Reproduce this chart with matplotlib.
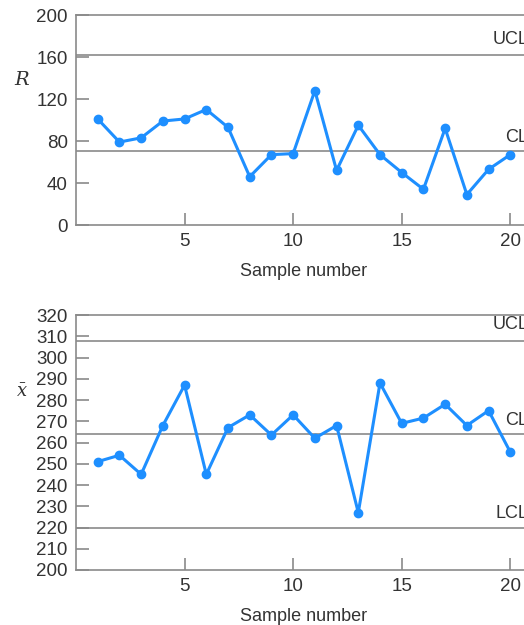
import numpy as np
import matplotlib
matplotlib.use("Agg")
import matplotlib.pyplot as plt

plt.rcParams['font.family'] = ['Liberation Sans', 'DejaVu Sans']
plt.rcParams['mathtext.fontset'] = 'dejavuserif'

# datos de las dos cartas de control
muestras = np.arange(1, 21)
rangos = [101, 79, 83, 99, 101, 110, 93, 46, 67, 68,
          128, 52, 95, 67, 50, 34, 92, 29, 53, 67]
medias = [251, 254, 245, 268, 287, 245, 267, 273, 263.5, 273,
          262, 268, 227, 288, 269, 271.5, 278, 268, 275, 255.5]

r_ucl, r_cl = 162, 70.5
x_ucl, x_cl, x_lcl = 308, 264, 220

azul = '#1e8fff'
gris = '#8a8a8a'
texto = '#333333'

fig = plt.figure(figsize=(5.24, 6.25), dpi=100)
W, H = 524, 625


def ejes(izq, arriba, abajo, der=532):
    return fig.add_axes([izq / W, 1 - abajo / H, (der - izq) / W, (abajo - arriba) / H])


def estilo(ax):
    for s in ['left', 'bottom', 'top']:
        ax.spines[s].set_color(gris)
        ax.spines[s].set_linewidth(1.2)
    ax.spines['right'].set_visible(False)
    ax.tick_params(direction='in', length=9, width=1.2, color=gris,
                   labelsize=13.5, labelcolor=texto, pad=6)
    ax.set_xlim(0, 21)
    ax.set_xticks([5, 10, 15, 20])
    ax.set_xlabel('Sample number', fontsize=13, color=texto, labelpad=9)


def linea_control(ax, y, etiqueta, dy):
    ax.axhline(y, color=gris, linewidth=1.2, zorder=1)
    ax.text(20.83, y + dy, etiqueta, ha='right', va='bottom',
            fontsize=13, color=texto)


# carta R
ax1 = ejes(76, 15, 225)
estilo(ax1)
ax1.set_ylim(0, 200)
ax1.set_yticks([0, 40, 80, 120, 160, 200])
linea_control(ax1, r_ucl, 'UCL', 7)
linea_control(ax1, r_cl, 'CL', 5)
ax1.plot(muestras, rangos, color=azul, linewidth=2.2, marker='o',
         markersize=6, zorder=3, clip_on=False)
ax1.text(-0.118, 0.69, r'$R$', transform=ax1.transAxes, fontsize=14,
         color=texto, ha='center', va='center')

# carta x-barra
ax2 = ejes(76, 315, 570)
estilo(ax2)
ax2.set_ylim(200, 320)
ax2.set_yticks(np.arange(200, 321, 10))
linea_control(ax2, x_ucl, 'UCL', 3.5)
linea_control(ax2, x_cl, 'CL', 2.5)
linea_control(ax2, x_lcl, 'LCL', 2.5)
ax2.plot(muestras, medias, color=azul, linewidth=2.2, marker='o',
         markersize=6, zorder=3, clip_on=False)
ax2.text(-0.118, 0.695, r'$\bar{x}$', transform=ax2.transAxes, fontsize=13,
         color=texto, ha='center', va='center')

fig.savefig('out.png', dpi=100)
